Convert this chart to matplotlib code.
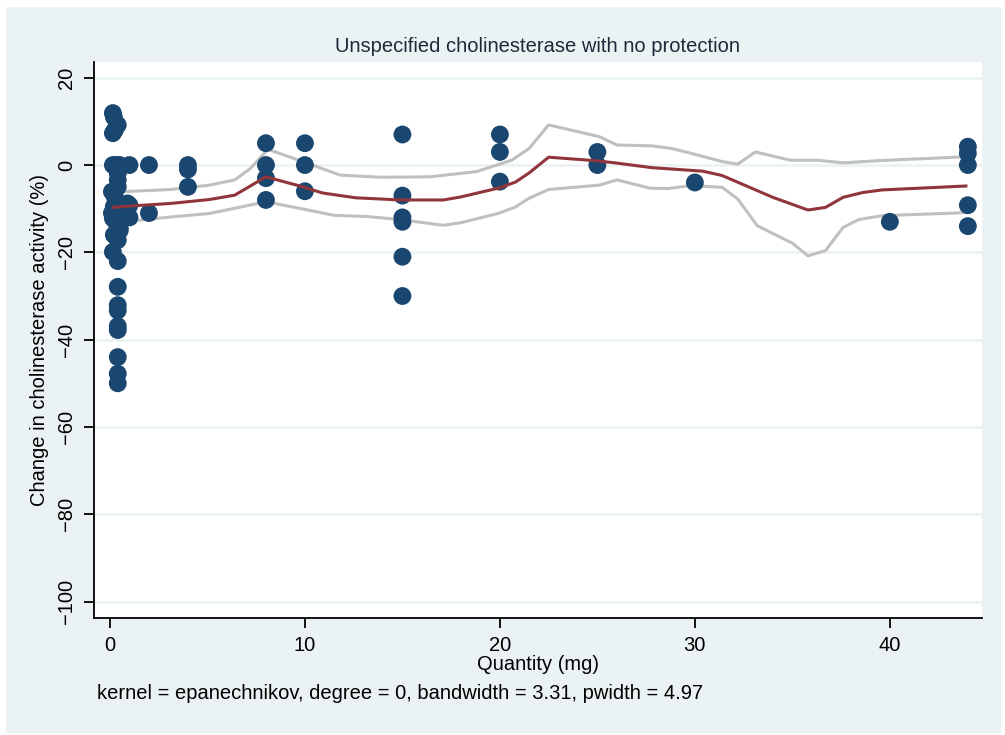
import matplotlib
matplotlib.use('Agg')
import matplotlib.pyplot as plt
from matplotlib.patches import Rectangle

plt.rcParams['font.family'] = ['Liberation Sans', 'DejaVu Sans']

# observed points (quantity in mg, change in %)
qty = [0.15, 0.2, 0.4, 0.15, 0.25,
       0.15, 0.3, 0.5, 0.4, 1.0, 2.0, 4.0, 4.0, 4.0,
       0.4, 0.4, 0.4, 0.1, 0.25, 0.9, 1.0, 2.0, 1.0,
       0.1, 0.15, 0.3, 0.5, 0.2, 0.4, 0.5, 0.15, 0.4,
       0.4, 0.4, 0.4, 0.4, 0.4, 0.4, 0.4, 0.4, 0.3, 0.2,
       8, 8, 8, 8,
       10, 10, 10,
       15, 15, 15, 15, 15, 15,
       20, 20, 20,
       25, 25,
       30,
       40,
       44, 44, 44, 44, 44]
change = [11.9, 11.0, 9.2, 7.3, 8.0,
          0, 0, 0, 0, 0, 0, 0, -1, -5,
          -1.9, -3.4, -5, -6.1, -7.3, -8.8, -9.2, -11, -12,
          -11, -12.2, -10, -14.5, -16, -17.2, -15, -19.9, -22,
          -27.9, -32.1, -33.3, -36.9, -37.8, -44, -47.8, -50, -13, -9.5,
          5, 0, -3, -8,
          5, 0, -6,
          7, -7, -12, -13, -21, -30,
          7, 3, -3.8,
          3, 0,
          -4,
          -13,
          4.2, 2.7, 0, -9.2, -14]

# local polynomial smooth
fit_q = [0.17, 1.0, 3.1, 5.1, 6.4, 8.0, 9.9, 10.9, 12.6, 14.9, 17.1, 18.0, 20.0,
         20.8, 21.5, 22.5, 24.9, 25.9, 27.8, 30.4, 31.4, 34.0, 35.8, 36.7,
         37.6, 38.6, 39.6, 43.9]
fit_v = [-9.7, -9.4, -8.8, -7.9, -6.9, -2.7, -5.0, -6.4, -7.5, -8.0, -8.0, -7.3, -5.2,
         -3.9, -1.8, 1.8, 1.0, 0.5, -0.6, -1.4, -2.4, -7.4, -10.3, -9.7,
         -7.4, -6.3, -5.7, -4.8]

# confidence band, upper
up_q = [0.68, 3.1, 5.1, 6.4, 7.2, 8.1, 9.7, 11.8, 13.9, 16.4, 18.8, 20.6, 21.5,
        22.5, 25.1, 26.0, 27.8, 28.8, 29.8, 31.4, 32.2, 33.1, 34.9, 36.3,
        37.6, 39.4, 43.9]
up_v = [-6.1, -5.6, -4.6, -3.4, -0.8, 3.6, 1.1, -2.3, -2.8, -2.7, -1.5, 1.1, 3.8,
        9.2, 6.5, 4.6, 4.4, 3.8, 2.7, 0.8, 0.2, 3.0, 1.1, 1.1,
        0.5, 1.0, 1.9]

# confidence band, lower
lo_q = [0.68, 3.1, 5.1, 6.4, 8.0, 10.6, 11.45, 13.2, 14.9, 17.1, 18.0, 19.9, 20.8,
        21.5, 22.5, 25.1, 26.0, 27.7, 28.6, 29.8, 31.4, 32.2, 33.2, 35.0,
        35.8, 36.7, 37.6, 38.4, 39.6, 43.9]
lo_v = [-13.0, -11.9, -11.1, -9.9, -8.4, -10.7, -11.5, -11.8, -12.5, -13.8, -13.2, -11.1, -9.6,
        -7.6, -5.6, -4.6, -3.4, -5.3, -5.4, -4.7, -5.1, -7.8, -13.9, -17.9,
        -20.8, -19.6, -14.3, -12.5, -11.6, -10.9]

bg = '#eaf2f3'
fig = plt.figure(figsize=(10.05, 7.35), dpi=100, facecolor='white')
fig.patches.append(Rectangle((0.006, 0.003), 0.99, 0.987, transform=fig.transFigure,
                             facecolor=bg, edgecolor='none', zorder=-5))
ax = fig.add_axes([0.0935, 0.159, 0.8835, 0.7566])
ax.set_facecolor('white')

ax.plot(up_q, up_v, color='#c0c0c0', lw=2.2, zorder=2)
ax.plot(lo_q, lo_v, color='#c0c0c0', lw=2.2, zorder=2)
ax.scatter(qty, change, s=165, color='#1a476f', edgecolors='none', zorder=3)
ax.plot(fit_q, fit_v, color='#90353b', lw=2.2, zorder=4)

ax.set_xlim(-0.82, 44.72)
ax.set_ylim(-103.8, 23.6)
ax.set_xticks([0, 10, 20, 30, 40])
ax.set_yticks([20, 0, -20, -40, -60, -80, -100])
ax.set_yticklabels(['20', '0', '\u221220', '\u221240', '\u221260', '\u221280', '\u2212100'],
                   rotation=90, va='center')
ax.grid(axis='y', color=bg, lw=1.8)
ax.set_axisbelow(True)
for s in ['top', 'right']:
    ax.spines[s].set_visible(False)
for s in ['left', 'bottom']:
    ax.spines[s].set_linewidth(1.3)
ax.tick_params(direction='out', length=7, width=1.3, labelsize=14.5, pad=6)

ax.set_xlabel('Quantity (mg)', fontsize=14.5, labelpad=0)
ax.set_ylabel('Change in cholinesterase activity (%)', fontsize=14.5, labelpad=6)
ax.set_title('Unspecified cholinesterase with no protection', fontsize=14.5, pad=7,
             color='#1e2a3a')
fig.text(0.097, 0.056, 'kernel = epanechnikov, degree = 0, bandwidth = 3.31, pwidth = 4.97',
         fontsize=14.5, ha='left', va='center')

plt.savefig('out.png', dpi=100)
